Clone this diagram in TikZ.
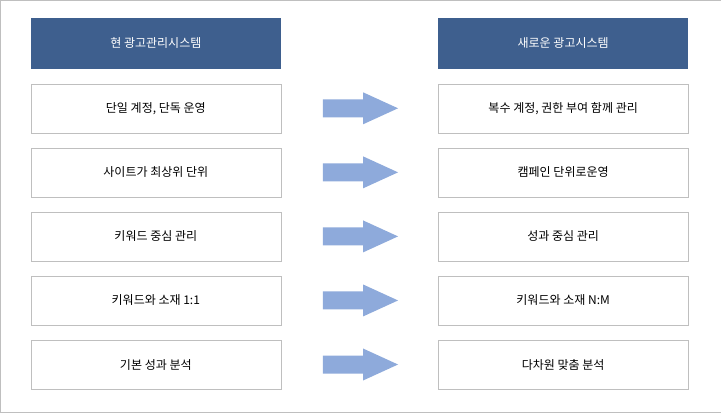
\documentclass[tikz,border=0pt]{standalone}
\usepackage{fontspec}
\newfontfamily\kr{Noto Sans CJK KR}
\definecolor{headblue}{HTML}{3E5F8E}
\definecolor{arrowblue}{HTML}{8EAADB}
\definecolor{boxgray}{HTML}{BFBFBF}
\begin{document}
\begin{tikzpicture}[x=1pt,y=-1pt,font=\kr\fontsize{12}{14}\selectfont,
  head/.style={fill=headblue,text=white,minimum width=250pt,minimum height=51pt,inner sep=0pt},
  item/.style={draw=boxgray,fill=white,minimum width=250pt,minimum height=49pt,inner sep=0pt}]
\draw[boxgray,fill=white] (0.5,0.5) rectangle (720.5,412.5);
\node[head] (L0) at (156,43.5) {현 광고관리시스템};
\node[head] (R0) at (563,43.5) {새로운 광고시스템};
\foreach \i/\l/\r in {1/단일 계정{,} 단독 운영/복수 계정{,} 권한 부여 함께 관리,
  2/사이트가 최상위 단위/캠페인 단위로운영,
  3/키워드 중심 관리/성과 중심 관리,
  4/키워드와 소재 1:1/키워드와 소재 N:M,
  5/기본 성과 분석/다차원 맞춤 분석}{
  \node[item] (L\i) at (156,44.5+64*\i) {\l};
  \node[item] (R\i) at (563,44.5+64*\i) {\r};
  \coordinate (A\i) at (323,44.5+64*\i);
  \fill[arrowblue] (A\i) ++(0,-9) -- ++(40,0) -- ++(0,-7) -- ++(35,16)
    -- ++(-35,16) -- ++(0,-7) -- ++(-40,0) -- cycle;
}
\end{tikzpicture}
\end{document}
